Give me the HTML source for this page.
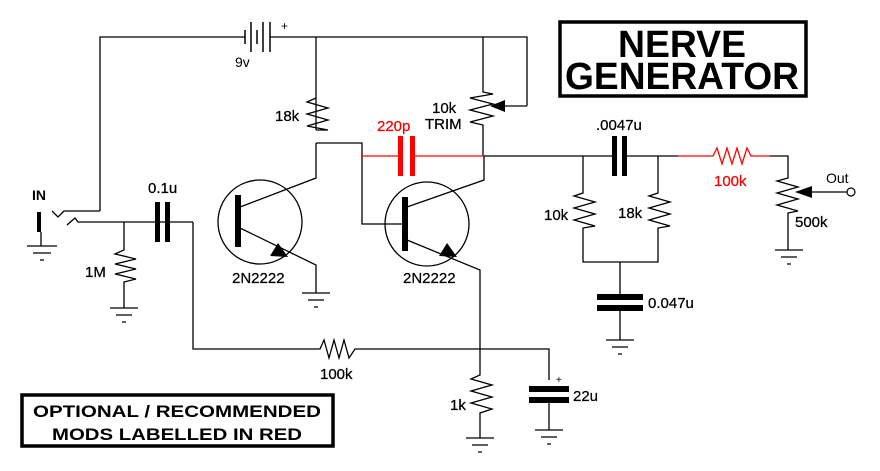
<!DOCTYPE html>
<html><head><meta charset="utf-8"><style>
html,body{margin:0;padding:0;background:#fff;}
svg{display:block;}
text{font-family:"Liberation Sans",Arial,sans-serif;}
</style></head><body>
<svg width="880" height="471" viewBox="0 0 880 471" xmlns="http://www.w3.org/2000/svg">
<g fill="none" stroke="#000" stroke-width="1.3">
<path d="M100,211 V37 H245 M270,37 H527 V106"/>
<path d="M245,30 V44 M251,22 V52 M257,30 V44 M263,22 V52 M270,22 V52" stroke-width="1.5"/>
<path d="M52,211 L58,217 L64,211 H100"/>
<path d="M67,225 L75,218 L78,222 H193"/>
<path d="M41,232 V246 M27,246 H57 M33,253 H51 M40,260 H44"/>
<path d="M124,222 V250 L115,254 L136,259 L115,264 L136,269 L115,274 L136,279 L124,282 V308 M110,308 H138 M116,315 H132 M122,322 H126"/>
<circle cx="260" cy="222" r="42"/>
<path d="M240,207 L316,178 V143 M316,130 V37"/>
<path d="M316,98 L307,102 L328,108 L307,114 L328,120 L307,126 L328,130 L316,130"/>
<path d="M240,228 L316,265 V293 M302,293 H330 M308,300 H324 M314,307 H318"/>
<path d="M316,143 H362 V224 H404"/>
<path d="M193,222 V349 H320 L324,340 L329,358 L334,340 L339,358 L344,340 L349,358 L355,349 H549 V380"/>
<path d="M549,402 V430 M535,430 H563 M541,437 H557 M547,444 H551"/>
<circle cx="427" cy="224" r="42"/>
<path d="M407,207 L484,180 V156"/>
<path d="M483,156 V125 L470,122 L493,116 L470,110 L493,104 L470,98 L493,94 L483,92 V37"/>
<path d="M527,106 H505"/>
<path d="M407,240 L480,270 V375 L471,379 L492,385 L471,391 L492,397 L471,403 L492,409 L480,413 V438 M466,438 H494 M472,445 H488 M478,452 H482"/>
<path d="M484,156 H615 M625,156 H678"/>
<path d="M583,156 V193 L574,196 L595,202 L574,208 L595,214 L574,220 L595,226 L583,228 V262 H658 V228 L670,226 L649,220 L670,214 L649,208 L670,202 L649,196 L658,193 V156"/>
<path d="M620,262 V295 M620,311 V340 M606,340 H634 M612,347 H628 M618,354 H622"/>
<path d="M770,156 H788 V178 L777,181 L798,187 L777,193 L798,199 L777,205 L798,211 L788,213 V250 M775,250 H803 M781,257 H797 M787,264 H791"/>
<path d="M847,192 H812"/>
</g>
<circle cx="851" cy="192" r="4" fill="#fff" stroke="#000" stroke-width="1.2"/>
<polygon points="490,106 505,100 505,112" fill="#000"/>
<polygon points="795,192 812,186 812,198" fill="#000"/>
<polygon points="288,257 270,256 278,243" fill="#000"/>
<polygon points="457,257 439,256 447,243" fill="#000"/>
<rect x="37" y="212" width="4" height="20" fill="#000"/>
<rect x="235" y="195" width="6" height="52" fill="#000"/>
<rect x="402" y="197" width="6" height="54" fill="#000"/>
<rect x="155" y="202" width="5" height="40" fill="#000"/>
<rect x="165" y="202" width="5" height="40" fill="#000"/>
<rect x="612" y="136" width="5" height="40" fill="#000"/>
<rect x="622" y="136" width="5" height="40" fill="#000"/>
<rect x="597" y="294" width="46" height="6" fill="#000"/>
<rect x="597" y="305" width="46" height="6" fill="#000"/>
<rect x="529" y="386" width="40" height="6" fill="#000"/>
<rect x="529" y="397" width="40" height="6" fill="#000"/>
<g stroke="#f00" fill="none" stroke-width="1.3">
<path d="M362,156 H398 M415,156 H484"/>
<path d="M678,156 H713 L717,148 L722,164 L727,148 L732,164 L737,148 L742,164 L747,148 L751,156 H770"/>
</g>
<rect x="398" y="136" width="5" height="40" fill="#f00"/>
<rect x="410" y="136" width="5" height="40" fill="#f00"/>
<rect x="560" y="22" width="246" height="74" fill="none" stroke="#000" stroke-width="3.5"/>
<rect x="22" y="395" width="311" height="51" fill="none" stroke="#000" stroke-width="3.5"/>
<g font-weight="bold" fill="#000">
<text x="682" y="57" font-size="38" text-anchor="middle" textLength="128" lengthAdjust="spacingAndGlyphs">NERVE</text>
<text x="682" y="89" font-size="38" text-anchor="middle" textLength="234" lengthAdjust="spacingAndGlyphs">GENERATOR</text>
<text x="177" y="417" font-size="17" text-anchor="middle" textLength="288" lengthAdjust="spacingAndGlyphs">OPTIONAL / RECOMMENDED</text>
<text x="177" y="440" font-size="17" text-anchor="middle" textLength="250" lengthAdjust="spacingAndGlyphs">MODS LABELLED IN RED</text>
</g>
<g font-size="15" fill="#000" stroke="#000" stroke-width="0.25">
<text x="148" y="193">0.1u</text>
<text x="275" y="121">18k</text>
<text x="432" y="113">10k</text>
<text x="425" y="129">TRIM</text>
<text x="596" y="130">.0047u</text>
<text x="544" y="220">10k</text>
<text x="618" y="218">18k</text>
<text x="795" y="227">500k</text>
<text x="85" y="277">1M</text>
<text x="232" y="283">2N2222</text>
<text x="403" y="283">2N2222</text>
<text x="320" y="379">100k</text>
<text x="450" y="410">1k</text>
<text x="573" y="401">22u</text>
<text x="648" y="308">0.047u</text>
<text x="377" y="131" fill="#f00" stroke="#f00">220p</text>
<text x="714" y="186" fill="#f00" stroke="#f00">100k</text>
</g>
<g font-family="'Liberation Mono',monospace" fill="#000" font-size="14">
<text x="32" y="200" font-weight="bold">IN</text>
<text x="235" y="67">9v</text>
<text x="826" y="183">Out</text>
<text x="281" y="30" font-size="12">+</text>
<text x="556" y="383" font-size="10">+</text>
</g>
</svg>
</body></html>
